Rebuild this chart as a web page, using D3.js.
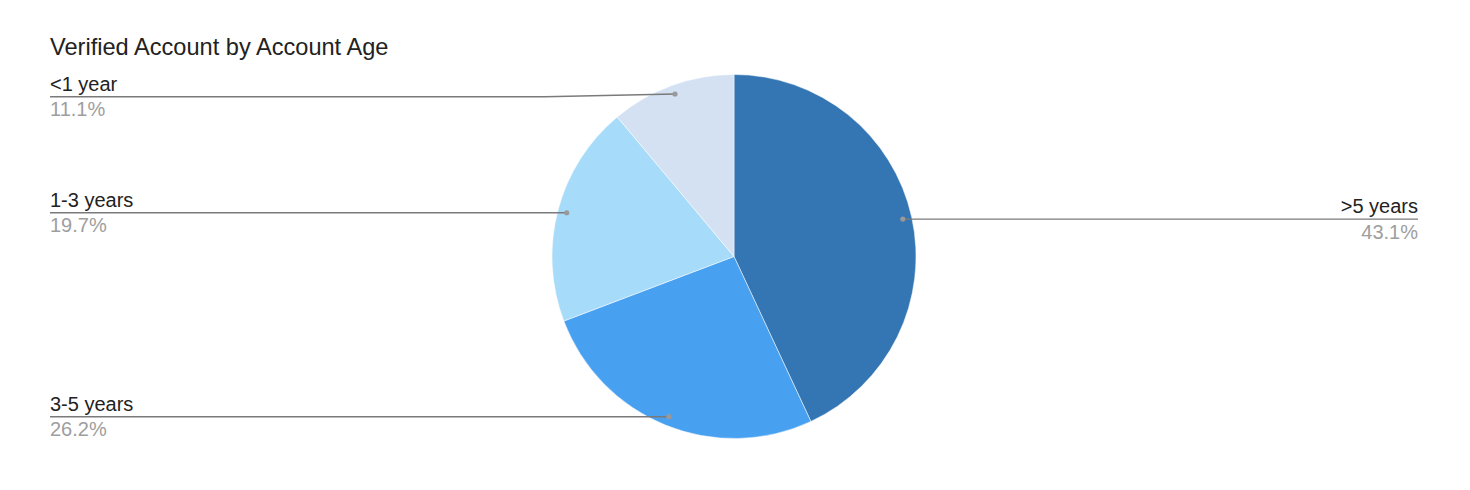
<!DOCTYPE html>
<html>
<head>
<meta charset="utf-8">
<script src="https://cdn.jsdelivr.net/npm/d3@7"></script>
<style>
  html, body { margin: 0; padding: 0; background: #fff; }
  text { font-family: "Liberation Sans", Arial, sans-serif; }
</style>
</head>
<body>
<script>
// chart data
const categories = ['>5 years', '3-5 years', '1-3 years', '<1 year']
const shares = [43.1, 26.2, 19.7, 11.1]
const pctLabels = ['43.1%', '26.2%', '19.7%', '11.1%']
const colors = ['#3475b3', '#48a0f0', '#a6dcfa', '#d3e1f3']

const width = 1470, height = 490
const cx = 734, cy = 256.5, radius = 182
const leftX = 50, rightX = 1418

const svg = d3.select('body').append('svg')
  .attr('width', width)
  .attr('height', height)

// title
svg.append('text')
  .attr('x', 50)
  .attr('y', 55)
  .attr('font-size', 23.6)
  .attr('fill', '#222')
  .text('Verified Account by Account Age')

const pie = d3.pie().sort(null).value(d => d.value)
const arcs = pie(categories.map((c, i) => ({name: c, value: shares[i], pct: pctLabels[i], color: colors[i]})))

const arc = d3.arc().innerRadius(0).outerRadius(radius)
const dotArc = d3.arc().innerRadius(radius * 0.95).outerRadius(radius * 0.95)

const g = svg.append('g').attr('transform', 'translate(' + cx + ',' + cy + ')')

// slices
g.selectAll('.slice')
  .data(arcs)
  .enter().append('path')
  .attr('class', 'slice')
  .attr('d', arc)
  .attr('fill', d => d.data.color)
  .attr('stroke', '#fff')
  .attr('stroke-width', 0.5)

// leader lines + labels
arcs.forEach(function (d) {
  const p = dotArc.centroid(d)
  const dx = cx + p[0], dy = cy + p[1]
  const right = dx > cx
  const ly = Math.max(dy, 96.7)
  const x0 = right ? rightX : leftX

  let path
  if (Math.abs(ly - dy) < 1) {
    path = 'M' + x0 + ',' + ly + 'H' + dx
  } else {
    const kink = right ? dx + 130 : dx - 130
    path = 'M' + x0 + ',' + ly + 'H' + kink + 'L' + dx + ',' + dy
  }
  svg.append('path')
    .attr('d', path)
    .attr('fill', 'none')
    .attr('stroke', '#7a7a7a')
    .attr('stroke-width', 1.4)

  svg.append('circle')
    .attr('cx', dx)
    .attr('cy', dy)
    .attr('r', 2.6)
    .attr('fill', '#999')

  svg.append('text')
    .attr('x', x0)
    .attr('y', ly - 6)
    .attr('font-size', 20)
    .attr('fill', '#222')
    .attr('text-anchor', right ? 'end' : 'start')
    .text(d.data.name)

  svg.append('text')
    .attr('x', x0)
    .attr('y', ly + 19.5)
    .attr('font-size', 20)
    .attr('fill', '#9e9e9e')
    .attr('text-anchor', right ? 'end' : 'start')
    .text(d.data.pct)
})
</script>
</body>
</html>
